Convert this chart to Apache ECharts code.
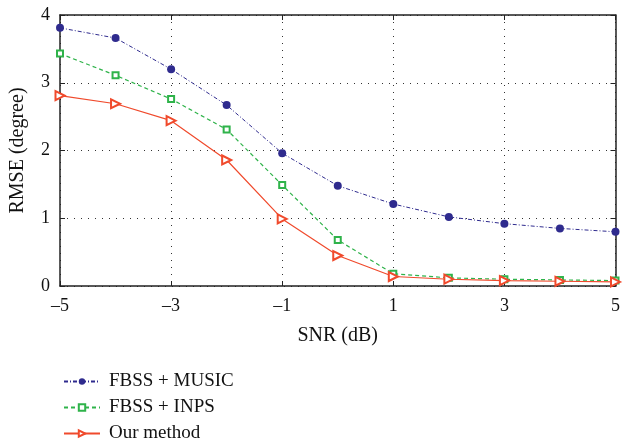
<!DOCTYPE html>
<html><head><meta charset="utf-8">
<script src="https://cdn.jsdelivr.net/npm/echarts@6/dist/echarts.min.js"></script>
<style>html,body{margin:0;padding:0;background:#fff}#c{width:623px;height:447px}</style>
</head><body><div id="c"></div>
<script>
const snr = [-5,-4,-3,-2,-1,0,1,2,3,4,5];
const music = [3.81,3.66,3.20,2.67,1.96,1.48,1.21,1.02,0.92,0.85,0.80];
const inps  = [3.43,3.11,2.76,2.31,1.49,0.68,0.18,0.12,0.10,0.09,0.08];
const ours  = [2.81,2.69,2.44,1.86,0.99,0.45,0.14,0.10,0.08,0.07,0.06];
const names = ['FBSS + MUSIC','FBSS + INPS','Our method'];
const xTicks = [-5,-3,-1,1,3,5];
const yTicks = [0,1,2,3,4];

const font = 'Liberation Serif, Times New Roman, serif';
const pairs = arr => snr.map((x,i)=>[x,arr[i]]);
const chart = echarts.init(document.getElementById('c'));
const gridLine = {show:true,lineStyle:{color:'#333',type:[1,6],width:1}};
const frame = {show:true,onZero:false,lineStyle:{color:'#222',width:1.5}};
chart.setOption({
  animation:false,
  grid:{left:58,right:6,top:15,bottom:161,containLabel:false},
  legend:{
    orient:'vertical',left:58,top:367,height:80,itemWidth:36,itemHeight:8,itemGap:7,
    textStyle:{fontFamily:font,fontSize:19,color:'#111',padding:[0,0,0,4]},
    data:names
  },
  xAxis:[{
    type:'value',min:-5,max:5,interval:2,
    name:'SNR (dB)',nameLocation:'middle',nameGap:40,
    nameTextStyle:{fontFamily:font,fontSize:20,color:'#111'},
    axisLine:frame,
    axisTick:{inside:true,length:5,lineStyle:{color:'#222'}},
    axisLabel:{fontFamily:font,fontSize:18,color:'#111',margin:11,
      formatter:v=>xTicks.includes(v)?String(v).replace('-','\u2013'):''},
    splitLine:gridLine
  },{
    type:'value',min:-5,max:5,interval:2,position:'top',
    axisLine:frame,
    axisTick:{inside:true,length:5,lineStyle:{color:'#222'}},
    axisLabel:{show:false},splitLine:{show:false}
  }],
  yAxis:[{
    type:'value',min:0,max:4,interval:1,
    name:'RMSE (degree)',nameLocation:'middle',nameGap:32,
    nameTextStyle:{fontFamily:font,fontSize:20,color:'#111'},
    axisLine:frame,
    axisTick:{show:true,inside:true,length:5,lineStyle:{color:'#222'}},
    axisLabel:{fontFamily:font,fontSize:18,color:'#111',margin:10,
      formatter:v=>yTicks.includes(v)?String(v):''},
    splitLine:gridLine
  },{
    type:'value',min:0,max:4,interval:1,position:'right',
    axisLine:frame,
    axisTick:{show:true,inside:true,length:5,lineStyle:{color:'#222'}},
    axisLabel:{show:false},splitLine:{show:false}
  }],
  series:[
    {name:names[0],type:'line',data:pairs(music),symbol:'circle',symbolSize:8,
     lineStyle:{color:'#2f2b8e',width:1,type:[4,2,1,2]},itemStyle:{color:'#2f2b8e'}},
    {name:names[1],type:'line',data:pairs(inps),symbol:'emptyRect',symbolSize:6,
     lineStyle:{color:'#2fb34a',width:1.2,type:[4,3]},itemStyle:{color:'#2fb34a',borderWidth:1.2}},
    {name:names[2],type:'line',data:pairs(ours),symbol:'emptyTriangle',symbolSize:9,symbolRotate:-90,
     lineStyle:{color:'#f04a2c',width:1.2},itemStyle:{color:'#f04a2c',borderWidth:1.2}}
  ]
});
</script></body></html>
